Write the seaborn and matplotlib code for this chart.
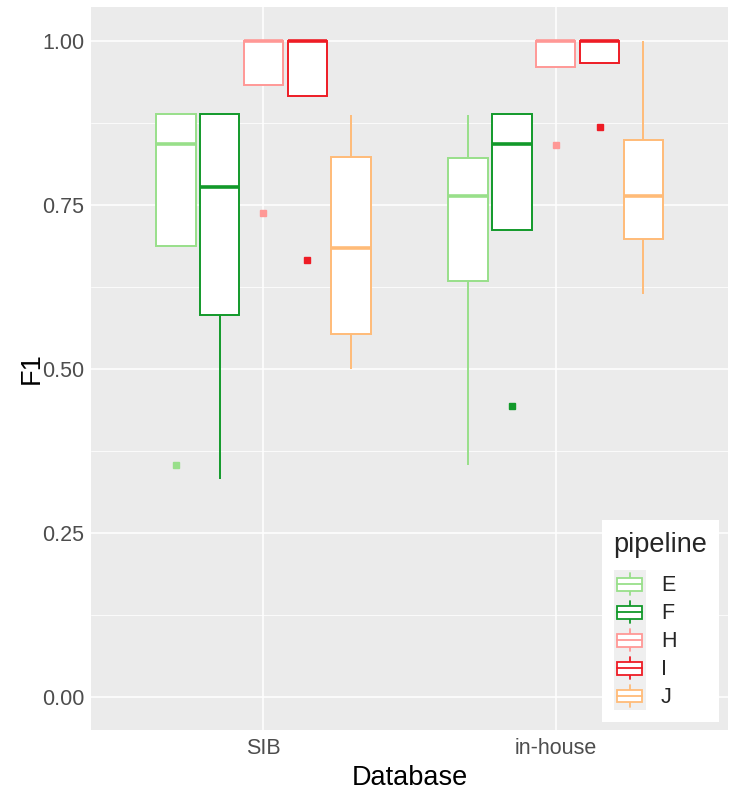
import numpy as np
import pandas as pd
import matplotlib.pyplot as plt
import seaborn as sns
from matplotlib.patches import Patch, Rectangle
from matplotlib.lines import Line2D
from matplotlib.legend_handler import HandlerBase
from matplotlib.ticker import MultipleLocator

databases = ["SIB", "in-house"]
pipelines = ["E", "F", "H", "I", "J"]
colors = ["#98DF8A", "#12992A", "#FF9896", "#EE1C25", "#FFBB78"]

# F1 scores per run (9 runs per box)
sib_E = [0.354, 0.6875, 0.6875, 0.75, 0.844, 0.875, 0.889, 0.889, 0.889]
sib_F = [0.333, 0.5, 0.583, 0.7, 0.778, 0.8, 0.889, 0.889, 0.889]
sib_H = [0.738, 0.934, 0.934, 1.0, 1.0, 1.0, 1.0, 1.0, 1.0]
sib_I = [0.666, 0.916, 0.916, 1.0, 1.0, 1.0, 1.0, 1.0, 1.0]
sib_J = [0.5, 0.53, 0.553, 0.62, 0.685, 0.75, 0.823, 0.85, 0.887]

inh_E = [0.354, 0.6, 0.634, 0.7, 0.764, 0.8, 0.822, 0.85, 0.887]
inh_F = [0.444, 0.712, 0.712, 0.8, 0.844, 0.87, 0.889, 0.889, 0.889]
inh_H = [0.842, 0.961, 0.961, 1.0, 1.0, 1.0, 1.0, 1.0, 1.0]
inh_I = [0.869, 0.967, 0.967, 1.0, 1.0, 1.0, 1.0, 1.0, 1.0]
inh_J = [0.615, 0.65, 0.699, 0.73, 0.764, 0.8, 0.85, 0.9, 1.0]

scores = {
    ("SIB", "E"): sib_E, ("SIB", "F"): sib_F, ("SIB", "H"): sib_H,
    ("SIB", "I"): sib_I, ("SIB", "J"): sib_J,
    ("in-house", "E"): inh_E, ("in-house", "F"): inh_F, ("in-house", "H"): inh_H,
    ("in-house", "I"): inh_I, ("in-house", "J"): inh_J,
}
rows = [(db, p, v) for (db, p), vals in scores.items() for v in vals]
df = pd.DataFrame(rows, columns=["Database", "pipeline", "F1"])


# legend key that looks like a small boxplot (ggplot style)
class BoxKey(HandlerBase):
    def create_artists(self, legend, orig_handle, xdescent, ydescent,
                       width, height, fontsize, trans):
        col = orig_handle.get_edgecolor()
        x0, y0 = -xdescent, -ydescent
        bg = Rectangle((x0, y0), width, height, facecolor="#EFEFEF",
                       edgecolor="none", transform=trans)
        cx = x0 + width / 2
        wl = Line2D([cx, cx], [y0 + 0.1 * height, y0 + 0.9 * height],
                    color=col, lw=1.3, transform=trans)
        box = Rectangle((x0 + 0.12 * width, y0 + 0.27 * height), 0.76 * width,
                        0.46 * height, facecolor="white", edgecolor=col,
                        lw=1.3, transform=trans)
        med = Line2D([x0 + 0.12 * width, x0 + 0.88 * width],
                     [y0 + 0.5 * height] * 2, color=col, lw=1.3,
                     transform=trans)
        return [bg, wl, box, med]


sns.set_theme(style="darkgrid", rc={
    "axes.facecolor": "#EBEBEB",
    "grid.color": "white",
    "axes.edgecolor": "none",
})
plt.rcParams["font.family"] = ["Liberation Sans", "DejaVu Sans"]

fig, ax = plt.subplots(figsize=(7.4, 7.95), dpi=100)
fig.subplots_adjust(left=0.123, right=0.984, top=0.991, bottom=0.082)

sns.boxplot(data=df, x="Database", y="F1", hue="pipeline",
            order=databases, hue_order=pipelines, palette=colors,
            width=0.75, gap=0.1, showcaps=False, whis=1.5,
            linewidth=1.4, legend=False, ax=ax,
            flierprops=dict(marker="s", markersize=5),
            medianprops=dict(linewidth=2.6))

# white boxes with coloured outlines, like ggplot's colour= aesthetic
for cont, col in zip(ax.containers, colors):
    for b in cont.boxes:
        b.set_facecolor("white")
        b.set_edgecolor(col)
    for ln in list(cont.whiskers) + list(cont.medians):
        ln.set_color(col)
    for f in cont.fliers:
        f.set_markerfacecolor(col)
        f.set_markeredgecolor(col)

ax.set_xlim(-0.59, 1.59)
ax.set_ylim(-0.05, 1.052)
ax.set_yticks([0, 0.25, 0.5, 0.75, 1.0])
ax.set_yticklabels(["0.00", "0.25", "0.50", "0.75", "1.00"])
ax.yaxis.set_minor_locator(MultipleLocator(0.125))
ax.grid(which="major", color="white", linewidth=1.1)
ax.grid(which="minor", axis="y", color="white", linewidth=0.55)
ax.tick_params(which="major", length=3, width=1.0, color="#333333",
               labelcolor="#4D4D4D", labelsize=15.5, pad=2)
ax.tick_params(axis="x", which="major", pad=3)
ax.tick_params(which="minor", length=0)
ax.set_axisbelow(True)

ax.set_xlabel("Database", fontsize=19.5, color="black", labelpad=4)
ax.set_ylabel("F1", fontsize=19.5, color="black", labelpad=-2)

handles = [Patch(facecolor="white", edgecolor=c, label=p)
           for p, c in zip(pipelines, colors)]
leg = ax.legend(handles=handles, title="pipeline", loc="lower right",
                bbox_to_anchor=(0.986, 0.011), frameon=True, fancybox=False,
                framealpha=1, fontsize=15.5, title_fontsize=19.5,
                handler_map={Patch: BoxKey()}, handlelength=1.5,
                handleheight=1.62, labelspacing=0.0, handletextpad=0.7,
                borderpad=0.55, borderaxespad=0)
leg.get_frame().set_facecolor("white")
leg.get_frame().set_edgecolor("none")
leg._legend_box.align = "left"
leg._legend_box.sep = 9

fig.savefig("out.png", dpi=100)
